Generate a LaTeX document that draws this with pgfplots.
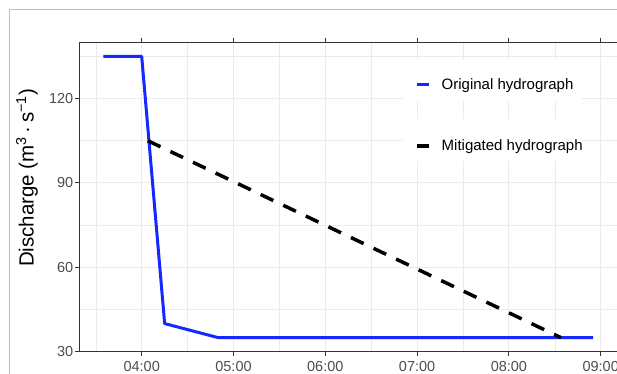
\documentclass[border=0pt]{standalone}
\usepackage{fontspec}
\setmainfont{Liberation Sans}
\usepackage{pgfplots}
\pgfplotsset{compat=1.18}
\definecolor{gridgray}{RGB}{235,235,235}
\definecolor{gray20}{RGB}{51,51,51}
\definecolor{gray30}{RGB}{77,77,77}
\definecolor{hblue}{RGB}{20,40,255}
\definecolor{framegray}{RGB}{190,190,190}
\begin{document}
\begin{tikzpicture}
\useasboundingbox (0bp,0bp) rectangle (617bp,374bp);
\clip (0bp,0bp) rectangle (617bp,374bp);
\draw[framegray, line width=1bp] (9.3bp,-5bp) -- (9.3bp,364.7bp) -- (630bp,364.7bp);
\begin{axis}[
  at={(79bp,22.3bp)}, anchor=south west,
  scale only axis, width=538.5bp, height=309.4bp,
  xmin=3.317, xmax=9.183, ymin=30, ymax=140,
  xtick={4,5,6,7,8,9},
  xticklabels={04:00,05:00,06:00,07:00,08:00,09:00},
  ytick={30,60,90,120},
  minor xtick={3.5,4.5,5.5,6.5,7.5,8.5},
  minor ytick={45,75,105,135},
  grid=both,
  major grid style={draw=gridgray, line width=1.1bp},
  minor grid style={draw=gridgray, line width=0.55bp},
  tick align=outside,
  major tick length=4bp, minor tick length=0bp,
  tick style={draw=gray20, line width=1bp},
  axis line style={draw=gray20, line width=1bp},
  /pgf/number format/assume math mode=true,
  ticklabel style={font=\fontsize{14.5bp}{17bp}\selectfont, text=gray30},
  yticklabel style={inner sep=1.5bp},
  xticklabel style={inner sep=0bp, anchor=north, yshift=-5.5bp},
  legend image code/.code={\draw[#1, line cap=butt, solid] (0bp,0bp) -- (12bp,0bp);},
  legend style={draw=none, fill=none, at={(axis description cs:0.624,0.764)}, anchor=west,
    inner sep=0pt, row sep=49bp, column sep=11bp,
    nodes={inner sep=0pt, font=\fontsize{15bp}{18bp}\selectfont, text=black}},
  legend cell align=left,
]
\fill[white] (axis cs:6.846,119.17) rectangle (axis cs:8.796,133.75);
\fill[white] (axis cs:6.846,97.83) rectangle (axis cs:8.796,112.77);
\addplot[hblue, line width=3bp, line join=round] coordinates {
  (3.583,135) (4.0,135) (4.25,40) (4.833,35) (8.917,35)};
\addlegendentry{Original hydrograph}
\addplot[black, line width=3.5bp, dash pattern=on 14bp off 11bp] coordinates {
  (4.067,105) (8.567,35)};
\addlegendentry{Mitigated hydrograph}
\end{axis}
\node[rotate=90, font=\fontsize{20.5bp}{24bp}\selectfont, text=black] at (27bp,196bp)
  {Discharge (m\textsuperscript{3}\,·\,s\textsuperscript{−1})};
\end{tikzpicture}
\end{document}
